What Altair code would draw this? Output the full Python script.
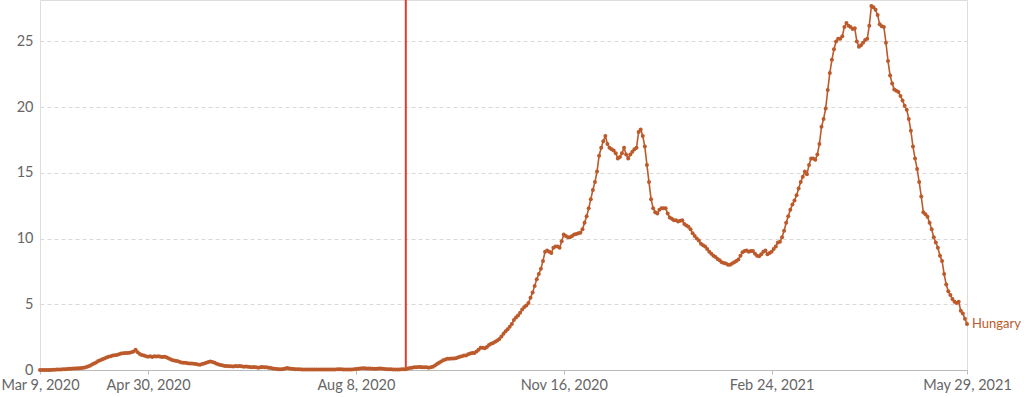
import altair as alt
import pandas as pd

start_date = "2020-03-09"
end_date = "2021-05-29"
marker_date = "2020-09-01"
series_name = "Hungary"

values = [
    # Mar 9 2020 ..
    0.0, 0.0, 0.0, 0.0, 0.0, 0.0, 0.02, 0.02, 0.03, 0.03,
    0.04, 0.05, 0.06, 0.08, 0.1, 0.1, 0.11, 0.12, 0.13, 0.14,
    0.15, 0.17, 0.2, 0.26, 0.33, 0.42, 0.5, 0.58, 0.68, 0.75,
    0.82, 0.88, 0.95, 1.0, 1.05, 1.1, 1.12, 1.15, 1.2, 1.25,
    1.27, 1.3, 1.3, 1.32, 1.35, 1.4, 1.55, 1.35, 1.22, 1.15,
    1.1, 1.05, 1.0, 1.05, 0.98, 1.05, 1.02, 1.05, 1.0, 0.98,
    1.0, 0.95, 0.88, 0.8, 0.75, 0.7, 0.68, 0.62, 0.58, 0.55,
    0.55, 0.52, 0.5, 0.5, 0.48, 0.45, 0.42, 0.4, 0.45, 0.5,
    0.55, 0.6, 0.65, 0.6, 0.55, 0.48, 0.42, 0.38, 0.35, 0.3,
    0.3, 0.28, 0.28, 0.27, 0.3, 0.28, 0.3, 0.28, 0.25, 0.27,
    0.25, 0.22, 0.2, 0.22, 0.2, 0.18, 0.2, 0.22, 0.2, 0.2,
    0.18, 0.16, 0.12, 0.1, 0.08, 0.06, 0.05, 0.08, 0.12, 0.15,
    0.12, 0.1, 0.08, 0.06, 0.05, 0.05, 0.04, 0.04, 0.03, 0.03,
    0.03, 0.03, 0.03, 0.03, 0.03, 0.04, 0.04, 0.03, 0.03, 0.04,
    0.04, 0.04, 0.04, 0.05, 0.05, 0.05, 0.04, 0.04, 0.03, 0.03,
    0.04, 0.06, 0.08, 0.1, 0.12, 0.13, 0.13, 0.12, 0.12, 0.12,
    0.1, 0.1, 0.1, 0.12, 0.12, 0.1, 0.08, 0.06, 0.05, 0.05,
    0.04, 0.04, 0.03, 0.04, 0.05, 0.05, 0.06, 0.12, 0.15, 0.18,
    0.2, 0.2, 0.22, 0.22, 0.2, 0.2, 0.2, 0.18, 0.2, 0.25,
    0.35, 0.45, 0.55, 0.65, 0.75, 0.8, 0.85, 0.85, 0.88, 0.88,
    0.9, 0.95, 1.0, 1.05, 1.1, 1.1, 1.2, 1.25, 1.3, 1.3,
    1.4, 1.55, 1.7, 1.7, 1.65, 1.75, 1.9, 2.0, 2.05, 2.15,
    2.25, 2.35, 2.55, 2.75, 2.95, 3.1, 3.3, 3.5, 3.8, 4.0,
    4.15, 4.35, 4.6, 4.8, 4.9, 5.1, 5.5, 5.9, 6.4, 6.9,
    7.3, 7.7, 8.3, 9.0, 9.1, 9.0, 8.9, 9.3, 9.4, 9.4,
    9.3, 9.8, 10.3, 10.2, 10.1, 10.1, 10.2, 10.3, 10.35, 10.4,
    10.45, 10.7, 11.2, 11.7, 12.3, 13.0, 13.7, 14.3, 15.1, 16.3,
    16.9, 17.4, 17.8, 17.2, 16.9, 16.8, 16.7, 16.5, 16.1, 16.2,
    16.5, 16.9, 16.4, 16.1, 16.4, 16.6, 16.8, 16.9, 18.1, 18.3,
    17.8, 17.0, 15.6, 14.3, 13.0, 12.3, 12.0, 11.9, 12.2, 12.3,
    12.3, 12.3, 11.9, 11.6, 11.5, 11.4, 11.4, 11.3, 11.35, 11.4,
    11.1, 11.0, 10.9, 10.7, 10.4, 10.2, 10.0, 9.85, 9.6, 9.5,
    9.4, 9.2, 9.0, 8.85, 8.7, 8.6, 8.45, 8.35, 8.2, 8.15,
    8.1, 8.0, 8.0, 8.1, 8.2, 8.3, 8.4, 8.7, 8.95, 9.05,
    9.1, 9.0, 9.05, 9.05, 8.85, 8.7, 8.65, 8.8, 9.0, 9.1,
    8.8, 8.9, 9.0, 9.2, 9.4, 9.7, 9.75, 10.1, 10.6, 11.2,
    11.7, 12.2, 12.6, 12.9, 13.3, 13.8, 14.3, 14.7, 15.1, 14.9,
    15.6, 16.1, 16.1, 16.0, 16.4, 17.2, 18.5, 19.1, 19.9, 21.3,
    22.6, 23.6, 24.4, 25.0, 25.2, 25.2, 25.4, 26.1, 26.4, 26.2,
    26.1, 25.95, 26.0, 25.0, 24.6, 24.7, 24.9, 25.1, 25.2, 26.2,
    27.7, 27.6, 27.4, 27.0, 26.3, 26.15, 26.1, 24.9, 23.5, 22.4,
    21.8, 21.35, 21.25, 21.15, 20.85, 20.5, 20.1, 19.8, 19.1, 18.2,
    17.0, 16.1, 15.3, 14.3, 13.2, 12.0, 11.85, 11.65, 11.2, 10.7,
    10.1, 9.7, 9.3, 8.7, 8.3, 7.3, 6.5, 6.0, 5.7, 5.4,
    5.2, 5.1, 5.2, 4.5, 4.3, 3.9, 3.5,
]

tick_dates = ["2020-03-09", "2020-04-30", "2020-08-08", "2020-11-16", "2021-02-24", "2021-05-29"]
y_ticks = [0, 5, 10, 15, 20, 25]

dates = pd.date_range(start_date, end_date, freq="D")
df = pd.DataFrame({"date": dates[: len(values)], "value": values})
df["country"] = series_name

line_color = "#BC5A2B"
font = "Lato"

tick_ts = [pd.Timestamp(d).isoformat() for d in tick_dates]
label_expr = "timeFormat(datum.value, '%b %-d, %Y')"

x_enc = alt.X(
    "date:T",
    scale=alt.Scale(domain=[pd.Timestamp(start_date).isoformat(), pd.Timestamp(end_date).isoformat()], nice=False),
    axis=alt.Axis(
        title=None,
        values=tick_ts,
        labelExpr=label_expr,
        grid=False,
        domainColor="#bbbbbb",
        tickColor="#bbbbbb",
        tickSize=4,
        labelColor="#666666",
        labelFontSize=14.5,
        labelFont=font,
        labelPadding=4,
        labelFlush=False,
        labelOverlap=False,
    ),
)
y_enc = alt.Y(
    "value:Q",
    scale=alt.Scale(domain=[0, 28.15], nice=False),
    axis=alt.Axis(
        title=None,
        values=y_ticks,
        grid=True,
        gridDash=[4, 3],
        gridColor="#d9d9d9",
        domain=False,
        ticks=False,
        labelColor="#666666",
        labelFontSize=14.5,
        labelFont=font,
        labelPadding=7,
    ),
)

base = alt.Chart(df)
line = base.mark_line(color=line_color, strokeWidth=1.6).encode(x=x_enc, y=y_enc)
pts = base.mark_circle(color=line_color, size=16, opacity=1).encode(x="date:T", y="value:Q")

label = alt.Chart(df.tail(1)).mark_text(
    align="left", baseline="middle", dx=5, fontSize=13, font=font, color=line_color
).encode(x="date:T", y="value:Q", text="country:N")

marker = alt.Chart(pd.DataFrame({"date": [pd.Timestamp(marker_date).isoformat()]})).mark_rule(
    color="#e23b2e", strokeWidth=2
).encode(x="date:T")

chart = (
    alt.layer(marker, line, pts, label)
    .properties(
        width=927,
        height=370,
        autosize=alt.AutoSizeParams(type="none"),
        padding={"left": 40, "top": 0, "right": 57, "bottom": 27},
    )
    .configure_view(stroke=None)
    .configure(font=font)
)

chart.save("out.html", embed_options={"renderer": "svg", "actions": False})
